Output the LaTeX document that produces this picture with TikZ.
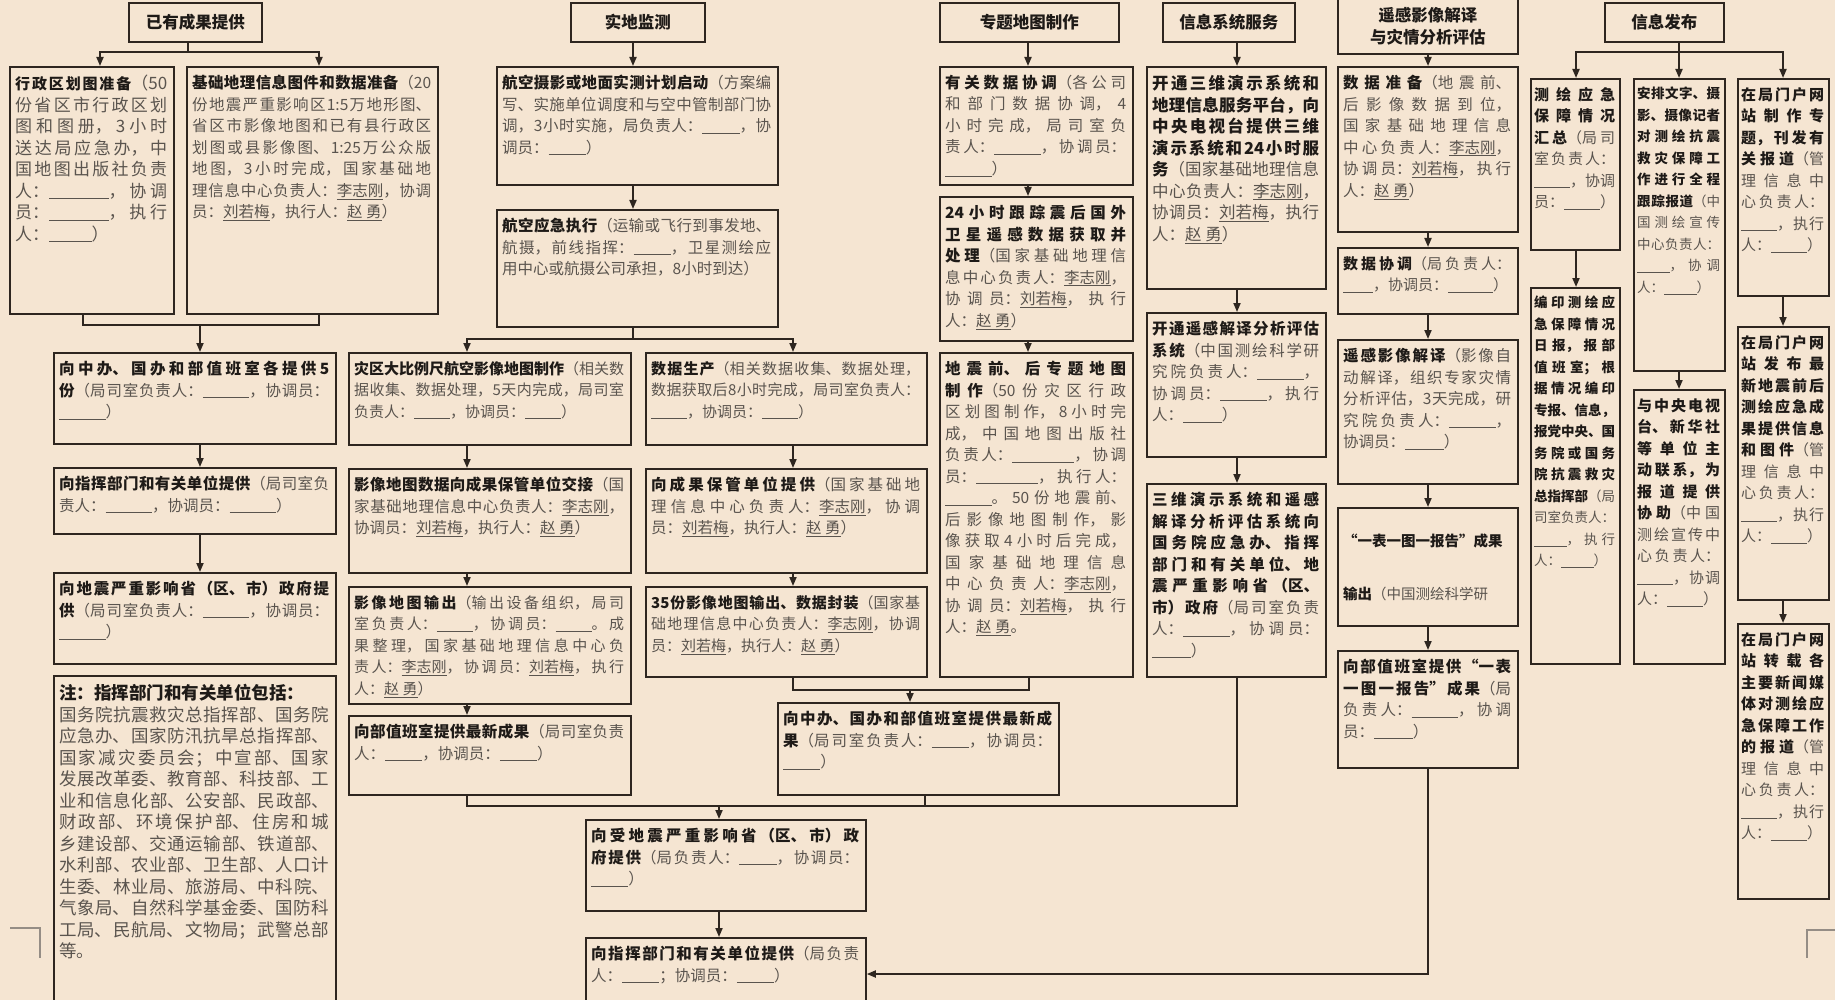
\documentclass[tikz,border=0pt]{standalone}
\usepackage{fontspec}
\setmainfont{Noto Sans CJK SC}
\usetikzlibrary{arrows.meta,calc}
\XeTeXlinebreaklocale "zh"
\XeTeXlinebreakskip=0pt plus 3pt
\tolerance=9000
\emergencystretch=4pt
\definecolor{bgc}{HTML}{F5E5D2}
\definecolor{lnc}{HTML}{2E2620}
\definecolor{tbc}{HTML}{1E1A17}
\definecolor{tnc}{HTML}{5A544E}
\definecolor{cropc}{HTML}{958D85}
\newcommand{\bl}[1][2.4em]{\allowbreak\underline{\hspace{#1}}}
\newcommand{\un}[1]{\underline{#1}}
\newcommand{\tb}[1]{{\bfseries\color{tbc}#1}}
\newcommand{\fs}[2]{\fontsize{#1}{#2}\selectfont}
\def\bpad{6}
\tikzset{
  boxst/.style={draw=lnc, line width=1.8pt, fill=bgc, inner sep=0pt, rectangle},
  txtst/.style={inner sep=0pt, align=justify, text=tnc, font=\fs{15.5}{21.5}},
  hdst/.style={draw=lnc, line width=1.8pt, fill=bgc, inner sep=0pt, rectangle, align=center, text=tbc, font=\bfseries\fs{16.5}{22}},
  ln/.style={draw=lnc, line width=1.8pt},
  ar/.style={ln, -{Triangle[length=9pt,width=7pt]}},
  cropst/.style={draw=cropc, line width=1.4pt},
}
\newcommand{\mybox}[7][]{%
  \pgfmathsetmacro{\mybw}{#5-#3}%
  \pgfmathsetmacro{\mybh}{#6-#4}%
  \pgfmathsetmacro{\mytw}{#5-#3-2*\bpad}%
  \node[boxst, minimum width=\mybw pt, minimum height=\mybh pt, anchor=north west] (#2) at (#3,#4) {};
  \node[txtst, text width=\mytw pt, anchor=north west] (#2-t) at ([xshift=\bpad pt,yshift=-9pt]#2.north west) {#1#7};
}
\newcommand{\myhead}[6]{%
  \pgfmathsetmacro{\mybw}{#4-#2}%
  \pgfmathsetmacro{\mybh}{#5-#3}%
  \node[hdst, minimum width=\mybw pt, minimum height=\mybh pt, anchor=north west] (#1) at (#2,#3) {#6};
}
\begin{document}
\begin{tikzpicture}[x=1pt,y=-1pt]
\useasboundingbox (0,0) rectangle (1835,1000);
\clip (0,0) rectangle (1835,1000);
\fill[bgc] (0,0) rectangle (1835,1000);

% ---------- headers
\myhead{h1}{128}{2}{261}{41}{已有成果提供}
\myhead{h2}{570}{2}{704}{41}{实地监测}
\myhead{h3}{939}{2}{1118}{41}{专题地图制作}
\myhead{h4}{1162}{2}{1294}{41}{信息系统服务}
\myhead{h5}{1337}{-3}{1517}{53}{遥感影像解译\\与灾情分析评估}
\myhead{h6}{1604}{2}{1723}{41}{信息发布}

% ---------- column 1
\mybox[\fs{17}{22}]{b1a}{9}{66}{173}{313}{\tb{\fs{15}{22}行政区划图准备}（50份省区市行政区划图和图册，3小时送达局应急办，中国地图出版社负责人：\bl[3.5em]，协调员：\bl[3.5em]，执行人：\bl[2.5em]）}
\mybox{b1b}{186}{66}{437}{313}{\tb{基础地理信息图件和数据准备}（20份地震严重影响区1:5万地形图、省区市影像地图和已有县行政区划图或县影像图、1:25万公众版地图，3小时完成，国家基础地理信息中心负责人：\un{李志刚}，协调员：\un{刘若梅}，执行人：\un{赵\ 勇}）}
\mybox{b1c}{53}{352}{335}{443}{\tb{向中办、国办和部值班室各提供5份}（局司室负责人：\bl[3em]，协调员：\bl[3em]）}
\mybox{b1d}{53}{467}{335}{533}{\tb{向指挥部门和有关单位提供}（局司室负责人：\bl[3em]，协调员：\bl[3em]）}
\mybox{b1e}{53}{572}{335}{663}{\tb{向地震严重影响省（区、市）政府提供}（局司室负责人：\bl[3em]，协调员：\bl[3em]）}
\mybox[\fs{17.5}{21.7}]{b1f}{53}{675}{335}{1012}{\tb{注：指挥部门和有关单位包括：}\par 国务院抗震救灾总指挥部、国务院应急办、国家防汛抗旱总指挥部、国家减灾委员会；中宣部、国家发展改革委、教育部、科技部、工业和信息化部、公安部、民政部、财政部、环境保护部、住房和城乡建设部、交通运输部、铁道部、水利部、农业部、卫生部、人口计生委、林业局、旅游局、中科院、气象局、自然科学基金委、国防科工局、民航局、文物局；武警总部等。}

% ---------- column 2
\mybox{b2a}{496}{66}{777}{184}{\tb{航空摄影或地面实测计划启动}（方案编写、实施单位调度和与空中管制部门协调，3小时实施，局负责人：\bl，协调员：\bl）}
\mybox{b2b}{496}{209}{777}{326}{\tb{航空应急执行}（运输或飞行到事发地、航摄，前线指挥：\bl，卫星测绘应用中心或航摄公司承担，8小时到达）}
\mybox[\fs{15}{21}]{b2c}{348}{352}{630}{444}{\tb{灾区大比例尺航空影像地图制作}（相关数据收集、数据处理，5天内完成，局司室负责人：\bl，协调员：\bl）}
\mybox[\fs{15}{21}]{b2d}{645}{352}{926}{444}{\tb{数据生产}（相关数据收集、数据处理，数据获取后8小时完成，局司室负责人：\bl，协调员：\bl）}
\mybox{b2e}{348}{468}{630}{572}{\tb{影像地图数据向成果保管单位交接}（国家基础地理信息中心负责人：\un{李志刚}，协调员：\un{刘若梅}，执行人：\un{赵\ 勇}）}
\mybox{b2f}{645}{468}{926}{572}{\tb{向成果保管单位提供}（国家基础地理信息中心负责人：\un{李志刚}，协调员：\un{刘若梅}，执行人：\un{赵\ 勇}）}
\mybox[\fs{15}{20.5}]{b2g}{348}{586}{630}{703}{\tb{影像地图输出}（输出设备组织，局司室负责人：\bl，协调员：\bl。成果整理，国家基础地理信息中心负责人：\un{李志刚}，协调员：\un{刘若梅}，执行人：\un{赵\ 勇}）}
\mybox[\fs{15}{21}]{b2h}{645}{586}{926}{676}{\tb{35份影像地图输出、数据封装}（国家基础地理信息中心负责人：\un{李志刚}，协调员：\un{刘若梅}，执行人：\un{赵\ 勇}）}
\mybox{b2i}{348}{715}{630}{794}{\tb{向部值班室提供最新成果}（局司室负责人：\bl，协调员：\bl）}
\mybox{b2j}{777}{702}{1058}{794}{\tb{向中办、国办和部值班室提供最新成果}（局司室负责人：\bl，协调员：\bl）}
\mybox{bgov}{585}{819}{865}{910}{\tb{向受地震严重影响省（区、市）政府提供}（局负责人：\bl，协调员：\bl）}
\mybox{bcmd}{585}{937}{865}{1012}{\tb{向指挥部门和有关单位提供}（局负责人：\bl；协调员：\bl）}

% ---------- column 3
\mybox{b3a}{939}{66}{1132}{184}{\tb{有关数据协调}（各公司和部门数据协调，4小时完成，局司室负责人：\bl[3em]，协调员：\bl[3em]）}
\mybox{b3b}{939}{196}{1132}{340}{\tb{24小时跟踪震后国外卫星遥感数据获取并处理}（国家基础地理信息中心负责人：\un{李志刚}，协调员：\un{刘若梅}，执行人：\un{赵\ 勇}）}
\mybox[\fs{15.5}{22.5}]{b3c}{939}{352}{1132}{676}{\tb{地震前、后专题地图制作}（50份灾区行政区划图制作，8小时完成，中国地图出版社负责人：\bl[4em]，协调员：\bl[4em]，执行人：\bl[3em]。50份地震前、后影像地图制作，影像获取4小时后完成，国家基础地理信息中心负责人：\un{李志刚}，协调员：\un{刘若梅}，执行人：\un{赵\ 勇}。}

% ---------- column 4
\mybox[\fs{16.5}{25}]{b4a}{1146}{66}{1325}{288}{\tb{开通三维演示系统和地理信息服务平台，向中央电视台提供三维演示系统和24小时服务}（国家基础地理信息中心负责人：\un{李志刚}，协调员：\un{刘若梅}，执行人：\un{赵\ 勇}）}
\mybox{b4b}{1146}{312}{1325}{456}{\tb{开通遥感解译分析评估系统}（中国测绘科学研究院负责人：\bl[3em]，协调员：\bl[3em]，执行人：\bl[2.5em]）}
\mybox[\fs{15.5}{21.5}]{b4c}{1146}{483}{1325}{676}{\tb{三维演示系统和遥感解译分析评估系统向国务院应急办、指挥部门和有关单位、地震严重影响省（区、市）政府}（局司室负责人：\bl[3em]，协调员：\bl[2.5em]）}

% ---------- column 5
\mybox{b5a}{1337}{66}{1517}{231}{\tb{数据准备}（地震前、后影像数据到位，国家基础地理信息中心负责人：\un{李志刚}，协调员：\un{刘若梅}，执行人：\un{赵\ 勇}）}
\mybox[\fs{15}{21}]{b5b}{1337}{247}{1517}{313}{\tb{数据协调}（局负责人：\bl[2em]，协调员：\bl[3em]）}
\mybox{b5c}{1337}{339}{1517}{483}{\tb{遥感影像解译}（影像自动解译，组织专家灾情分析评估，3天完成，研究院负责人：\bl[3em]，协调员：\bl[2.5em]）}
\mybox[\fs{14.5}{21.5}]{b5d}{1337}{507}{1517}{625}{\rule{0pt}{30pt}\tb{“一表一图一报告”成果}\par\vspace{32pt}\tb{输出}（中国测绘科学研}
\mybox{b5e}{1337}{650}{1517}{767}{\tb{向部值班室提供“一表一图一报告”成果}（局负责人：\bl[3em]，协调员：\bl[2.5em]）}

% ---------- column 6
\def\bpad{4}
\mybox[\fs{15}{24.5}]{b6a}{1530}{78}{1619}{249}{\tb{测绘应急保障情况汇总}（局司室负责人：\bl，协调员：\bl）}
\mybox[\fs{13.5}{26}]{b6b}{1530}{287}{1619}{663}{\tb{编印测绘应急保障情况日报，报部值班室；根据情况编印专报、信息，报党中央、国务院或国务院抗震救灾总指挥部}（局司室负责人：\bl，执行人：\bl）}
\mybox[\fs{13.5}{25}]{b6c}{1633}{78}{1724}{370}{\tb{安排文字、摄影、摄像记者对测绘抗震救灾保障工作进行全程跟踪报道}（中国测绘宣传中心负责人：\bl，协调人：\bl）}
\mybox[\fs{15}{25}]{b6d}{1633}{389}{1724}{663}{\tb{与中央电视台、新华社等单位主动联系，为报道提供协助}（中国测绘宣传中心负责人：\bl，协调人：\bl）}
\mybox[\fs{15}{24.5}]{b6e}{1737}{78}{1828}{295}{\tb{在局门户网站制作专题，刊发有关报道}（管理信息中心负责人：\bl，执行人：\bl）}
\mybox[\fs{15}{25}]{b6f}{1737}{326}{1828}{599}{\tb{在局门户网站发布最新地震前后测绘应急成果提供信息和图件}（管理信息中心负责人：\bl，执行人：\bl）}
\mybox[\fs{15}{25}]{b6g}{1737}{623}{1828}{898}{\tb{在局门户网站转载各主要新闻媒体对测绘应急保障工作的报道}（管理信息中心负责人：\bl，执行人：\bl）}

% ---------- connectors column 1
\coordinate (k1) at (188,52);
\draw[ln] (h1.south -| k1) -- (k1);
\draw[ar] (k1) -| (b1a.north -| 100,0);
\draw[ar] (k1) -| (b1b.north -| 319,0);
\coordinate (k2) at (200,325);
\draw[ln] (b1a.south -| 83,0) |- (k2);
\draw[ln] (b1b.south -| 319,0) |- (k2);
\draw[ar] (k2) -- (b1c.north -| k2);
\draw[ar] (b1c.south -| k2) -- (b1d.north -| k2);
\draw[ar] (b1d.south -| k2) -- (b1e.north -| k2);

% ---------- connectors column 2
\draw[ar] (h2.south -| 633,0) -- (b2a.north -| 633,0);
\draw[ar] (b2a.south -| 633,0) -- (b2b.north -| 633,0);
\coordinate (k3) at (633,339);
\draw[ln] (b2b.south -| k3) -- (k3);
\draw[ar] (k3) -| (b2c.north -| 467,0);
\draw[ar] (k3) -| (b2d.north -| 793,0);
\draw[ar] (b2c.south -| 467,0) -- (b2e.north -| 467,0);
\draw[ar] (b2e.south -| 467,0) -- (b2g.north -| 467,0);
\draw[ar] (b2g.south -| 467,0) -- (b2i.north -| 467,0);
\draw[ar] (b2d.south -| 793,0) -- (b2f.north -| 793,0);
\draw[ar] (b2f.south -| 793,0) -- (b2h.north -| 793,0);
\coordinate (k4) at (910,690);
\draw[ln] (b2h.south -| 793,0) |- (k4);
\draw[ln] (b3c.south -| 1029,0) |- (k4);
\draw[ar] (k4) -- (b2j.north -| k4);
\coordinate (k5) at (719,806);
\draw[ln] (b2i.south -| 467,0) |- (k5);
\draw[ln] (b2j.south -| 925,0) |- (k5);
\draw[ln] (b4c.south -| 1237,0) |- (k5);
\draw[ar] (k5) -- (bgov.north -| k5);
\draw[ar] (bgov.south -| k5) -- (bcmd.north -| k5);
\draw[ar] (b5e.south -| 1428,0) |- (bcmd.east |- 0,974);

% ---------- connectors column 3
\draw[ar] (h3.south -| 1028,0) -- (b3a.north -| 1028,0);
\draw[ar] (b3a.south -| 1028,0) -- (b3b.north -| 1028,0);
\draw[ar] (b3b.south -| 1028,0) -- (b3c.north -| 1028,0);

% ---------- connectors column 4
\draw[ar] (h4.south -| 1237,0) -- (b4a.north -| 1237,0);
\draw[ar] (b4a.south -| 1237,0) -- (b4b.north -| 1237,0);
\draw[ar] (b4b.south -| 1237,0) -- (b4c.north -| 1237,0);

% ---------- connectors column 5
\draw[ar] (h5.south -| 1428,0) -- (b5a.north -| 1428,0);
\draw[ar] (b5a.south -| 1428,0) -- (b5b.north -| 1428,0);
\draw[ar] (b5b.south -| 1428,0) -- (b5c.north -| 1428,0);
\draw[ar] (b5c.south -| 1428,0) -- (b5d.north -| 1428,0);
\draw[ar] (b5d.south -| 1428,0) -- (b5e.north -| 1428,0);

% ---------- connectors column 6
\coordinate (k6) at (1679,52);
\draw[ln] (h6.south -| k6) -- (k6);
\draw[ar] (k6) -| (b6a.north -| 1576,0);
\draw[ar] (k6) -- (b6c.north -| k6);
\draw[ar] (k6) -| (b6e.north -| 1783,0);
\draw[ar] (b6a.south -| 1576,0) -- (b6b.north -| 1576,0);
\draw[ar] (b6c.south -| 1679,0) -- (b6d.north -| 1679,0);
\draw[ar] (b6e.south -| 1783,0) -- (b6f.north -| 1783,0);
\draw[ar] (b6f.south -| 1783,0) -- (b6g.north -| 1783,0);

% ---------- crop marks
\coordinate (m1) at (10,928);
\draw[cropst] (m1) -- (40,928) -- (40,958);
\coordinate (m2) at (1835,930);
\draw[cropst] (m2) -- (1807,930) -- (1807,958);
\end{tikzpicture}
\end{document}
